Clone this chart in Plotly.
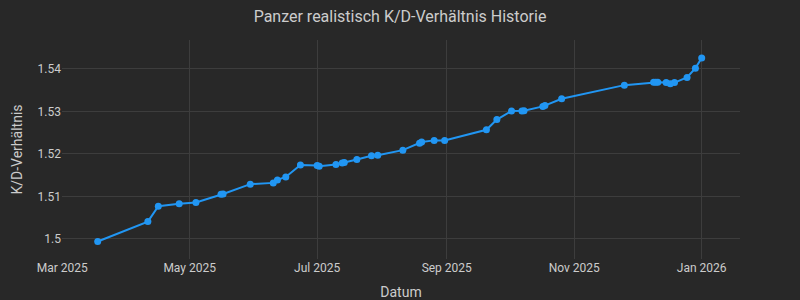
import plotly.graph_objects as go

dates = [
    "2025-03-18", "2025-04-11", "2025-04-16", "2025-04-26", "2025-05-04",
    "2025-05-16", "2025-05-17", "2025-05-30", "2025-06-10", "2025-06-12",
    "2025-06-16", "2025-06-23", "2025-07-01", "2025-07-02", "2025-07-10",
    "2025-07-13", "2025-07-14", "2025-07-20", "2025-07-27", "2025-07-30",
    "2025-08-11", "2025-08-19", "2025-08-20", "2025-08-26", "2025-08-31",
    "2025-09-20", "2025-09-25", "2025-10-02", "2025-10-07", "2025-10-08",
    "2025-10-17", "2025-10-18", "2025-10-26", "2025-11-25", "2025-12-09",
    "2025-12-10", "2025-12-11", "2025-12-15", "2025-12-17", "2025-12-19",
    "2025-12-25", "2025-12-29", "2026-01-01",
]
kd_values = [
    1.4994, 1.5041, 1.5077, 1.5083, 1.5086,
    1.5105, 1.5106, 1.5129, 1.5132, 1.5139,
    1.5146, 1.5174, 1.5173, 1.5171, 1.5175,
    1.5179, 1.5180, 1.5187, 1.5196, 1.5197,
    1.5209, 1.5225, 1.5228, 1.5232, 1.5232,
    1.5257, 1.5281, 1.5301, 1.5301, 1.5302,
    1.5312, 1.5314, 1.5330, 1.5362, 1.5369,
    1.5369, 1.5369, 1.5368, 1.5365, 1.5368,
    1.5380, 1.5402, 1.5426,
]

title_text = "Panzer realistisch K/D-Verhältnis Historie"
x_title = "Datum"
y_title = "K/D-Verhältnis"

bg = "#282828"
grid = "#3d3d3d"
text = "#cccccc"
blue = "#2196F3"

fig = go.Figure(
    go.Scatter(
        x=dates, y=kd_values, mode="lines+markers",
        line=dict(color=blue, width=2),
        marker=dict(color=blue, size=7),
    )
)

fig.update_layout(
    width=800, height=300,
    paper_bgcolor=bg, plot_bgcolor=bg,
    font=dict(family="Roboto", color=text, size=12),
    title=dict(text=title_text, x=0.5, xanchor="center", y=0.945, yanchor="middle",
               font=dict(size=16, color=text)),
    margin=dict(l=62, r=60, t=40, b=41),
    showlegend=False,
    xaxis=dict(
        title=dict(text=x_title, font=dict(size=14)),
        automargin=False,
        range=["2025-02-28 22:00", "2026-01-19 08:00"],
        gridcolor=grid, zeroline=False, showline=False,
        dtick="M2", tickformat="%b %Y",
        tick0="2025-01-01",
    ),
    yaxis=dict(
        title=dict(text=y_title, font=dict(size=14), standoff=11),
        automargin=True,
        range=[1.49529, 1.54682],
        gridcolor=grid, zeroline=False, showline=False,
        dtick=0.01,
    ),
)

fig.write_html("out.html")
